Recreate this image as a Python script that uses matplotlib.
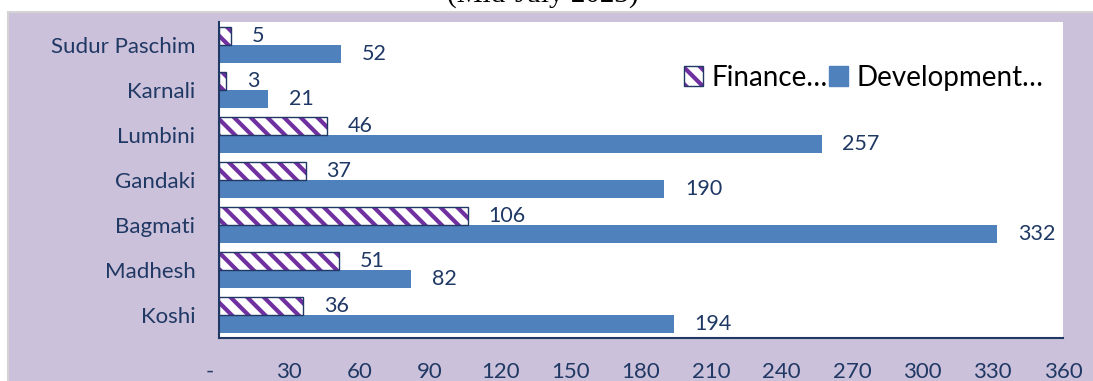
import matplotlib
matplotlib.use("Agg")
import matplotlib.pyplot as plt
from matplotlib.patches import Patch, Rectangle
import numpy as np

# provinces, bottom to top
provinces = ["Koshi", "Madhesh", "Bagmati", "Gandaki", "Lumbini", "Karnali", "Sudur Paschim"]
finance = [36, 51, 106, 37, 46, 3, 5]
development = [194, 82, 332, 190, 257, 21, 52]
xticks = [0, 30, 60, 90, 120, 150, 180, 210, 240, 270, 300, 330, 360]
xticklabels = ["-   "] + [str(v) for v in xticks[1:]]

navy = "#1F3864"
purple = "#7030A0"
blue = "#4F81BD"
panel = "#CCC1DA"

plt.rcParams["font.family"] = ["Lato", "DejaVu Sans"]
plt.rcParams["hatch.linewidth"] = 3.0

fig = plt.figure(figsize=(10.93, 3.81), dpi=100)
fig.patch.set_facecolor("white")

# lilac chart panel with a thin grey edge
fig.add_artist(Rectangle((8 / 1093, -0.01), 1.0, (381 - 12) / 381 + 0.01,
                         transform=fig.transFigure, facecolor=panel,
                         edgecolor="#D4D4D4", linewidth=1.5, zorder=0))
# bottom of the heading that sits above the chart
fig.text(0.497, 1.0 - 1.5 / 381, "(Mid-July 2023)", ha="center", va="baseline",
         fontsize=21, family="Liberation Serif", color="black")

ax = fig.add_axes([219 / 1093, 1 - 338 / 381, 844 / 1093, 316 / 381])
ax.set_facecolor("white")

y = np.arange(len(provinces))
h = 0.4
ax.barh(y + h / 2, finance, height=h, color="white", edgecolor=purple,
        hatch="\\\\", linewidth=0, zorder=2)
ax.barh(y + h / 2, finance, height=h, fill=False, edgecolor=navy,
        linewidth=1.0, zorder=3)
ax.barh(y - h / 2, development, height=h, color=blue, zorder=2)

for yi, v in zip(y, finance):
    ax.annotate(str(v), (v, yi + h / 2), xytext=(15, 0), textcoords="offset points",
                ha="left", va="center", fontsize=15.5, color=navy)
for yi, v in zip(y, development):
    ax.annotate(str(v), (v, yi - h / 2), xytext=(15, 0), textcoords="offset points",
                ha="left", va="center", fontsize=15.5, color=navy)

ax.set_xlim(0, 360)
ax.set_ylim(-0.5, len(provinces) - 0.5)
ax.set_xticks(xticks)
ax.set_xticklabels(xticklabels)
ax.set_yticks(y)
ax.set_yticklabels(provinces)
ax.tick_params(axis="both", length=0, labelsize=16, labelcolor=navy, pad=17)

for s in ["top", "right"]:
    ax.spines[s].set_visible(False)
for s in ["left", "bottom"]:
    ax.spines[s].set_color(navy)
    ax.spines[s].set_linewidth(1.5)

fin_handle = (Patch(facecolor="white", edgecolor=purple, hatch="\\\\", linewidth=0),
              Patch(fill=False, edgecolor=navy, linewidth=1.0))
dev_handle = Patch(facecolor=blue, edgecolor=blue)
ax.legend([fin_handle, dev_handle], ["Finance…", "Development…"],
          loc="upper right", bbox_to_anchor=(0.99, 0.9), ncol=2, frameon=False,
          fontsize=20, handlelength=0.7, handleheight=0.7, handletextpad=0.3,
          columnspacing=0.05, borderaxespad=0)

fig.savefig("out.png", dpi=100, facecolor=fig.get_facecolor())
